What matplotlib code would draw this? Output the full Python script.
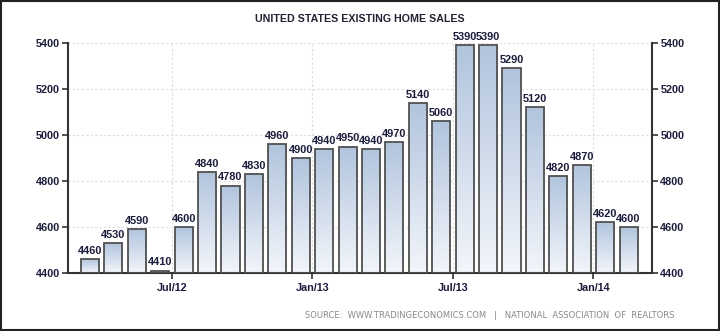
import numpy as np
import matplotlib
matplotlib.use("Agg")
import matplotlib.pyplot as plt

plt.rcParams['font.family'] = ['Liberation Sans', 'DejaVu Sans']

# data - existing home sales (thousands, SAAR), Mar 2012 .. Feb 2014
months = ["Mar/12", "Apr/12", "May/12", "Jun/12", "Jul/12", "Aug/12", "Sep/12", "Oct/12",
          "Nov/12", "Dec/12", "Jan/13", "Feb/13", "Mar/13", "Apr/13", "May/13", "Jun/13",
          "Jul/13", "Aug/13", "Sep/13", "Oct/13", "Nov/13", "Dec/13", "Jan/14", "Feb/14"]
sales = [4460, 4530, 4590, 4410, 4600, 4840, 4780, 4830, 4960, 4900, 4940, 4950,
         4940, 4970, 5140, 5060, 5390, 5390, 5290, 5120, 4820, 4870, 4620, 4600]
tick_labels = ["Jul/12", "Jan/13", "Jul/13", "Jan/14"]
yticks = [4400, 4600, 4800, 5000, 5200, 5400]

txt = "#1c1c3c"
fig = plt.figure(figsize=(7.2, 3.31), dpi=100)
ax = fig.add_axes([68/720, 1-273/331, (652-68)/720, (273-43)/331])

x = np.arange(len(sales))
base = 4400
bars = ax.bar(x, np.array(sales) - base, bottom=base, width=0.77,
              color="none", edgecolor="#505050", linewidth=1.3, zorder=3)

# gradient fill for each bar
grad = np.linspace(0, 1, 256).reshape(-1, 1)
cmap = matplotlib.colors.LinearSegmentedColormap.from_list("g", ["#f3f6fb", "#b1c4dd"])
for b in bars:
    x0, y0 = b.get_x(), b.get_y()
    im = ax.imshow(grad, extent=[x0, x0 + b.get_width(), y0, y0 + b.get_height()],
                   origin="lower", cmap=cmap, aspect="auto", zorder=2)
    im.set_clip_path(b)

for xi, v in zip(x, sales):
    ax.text(xi, v + 14, str(v), ha="center", va="bottom", fontsize=7.9,
            color=txt, fontweight="bold", zorder=4)

ax.set_xlim(-0.94, 24.0)
ax.set_ylim(4400, 5400)
ax.set_yticks(yticks)
ax.set_yticklabels([str(t) for t in yticks], fontsize=7.8, color=txt, fontweight="bold")
tick_pos = [months.index(m) - 0.5 for m in tick_labels]
ax.set_xticks(tick_pos)
ax.set_xticklabels(tick_labels, fontsize=7.8, color=txt, fontweight="bold")
ax.tick_params(axis="x", length=4, width=1.2, color="#333333", pad=3)
ax.tick_params(axis="y", length=4, width=1.2, color="#333333", pad=2)
ax.grid(True, color="#dddddd", linestyle=(0, (2, 2)), linewidth=0.8, zorder=0)

for s in ["top", "right"]:
    ax.spines[s].set_visible(False)
ax.spines["left"].set_color("#333333")
ax.spines["left"].set_linewidth(1.5)
ax.spines["bottom"].set_color("#333333")
ax.spines["bottom"].set_linewidth(1.5)

ax2 = ax.twinx()
ax2.set_ylim(4400, 5400)
ax2.set_yticks(yticks)
ax2.set_yticklabels([str(t) for t in yticks], fontsize=7.8, color=txt, fontweight="bold")
ax2.tick_params(axis="y", length=4, width=1.2, color="#333333", pad=2)
for s in ["top", "left", "bottom"]:
    ax2.spines[s].set_visible(False)
ax2.spines["right"].set_color("#333333")
ax2.spines["right"].set_linewidth(1.5)

fig.text(0.5, 1 - 19/331, "UNITED STATES EXISTING HOME SALES", ha="center", va="center",
         fontsize=7.7, fontweight="bold", color="#222233")
fig.text(674/720, 1 - 315/331,
         "SOURCE:  WWW.TRADINGECONOMICS.COM   |   NATIONAL  ASSOCIATION  OF  REALTORS",
         ha="right", va="center", fontsize=6, color="#888888", family="DejaVu Sans")

# outer frame
fig.patches.append(plt.Rectangle((0.002, 0.003), 0.996, 0.994, transform=fig.transFigure,
                                 fill=False, edgecolor="#222222", linewidth=1.5))

fig.savefig("out.png", dpi=100)
